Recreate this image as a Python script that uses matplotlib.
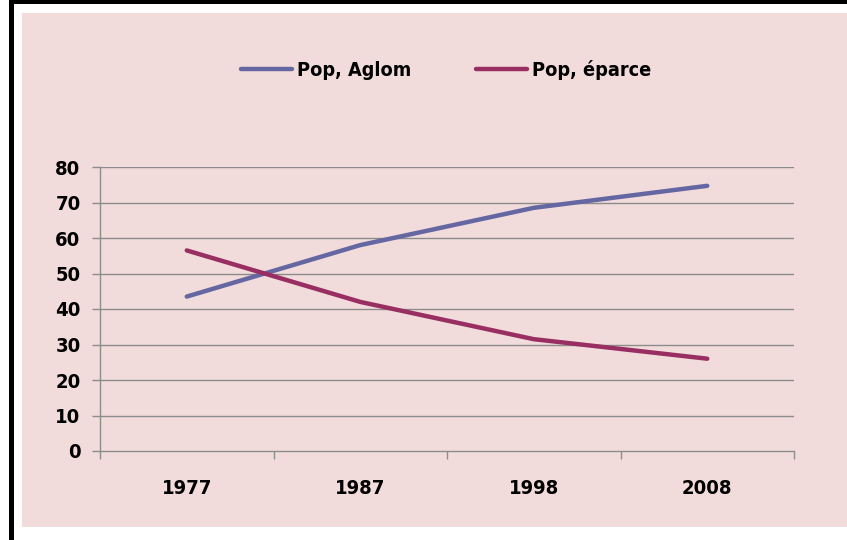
import matplotlib
matplotlib.use("Agg")
import matplotlib.pyplot as plt
from matplotlib.patches import Rectangle
from matplotlib.lines import Line2D

years = ["1977", "1987", "1998", "2008"]
pop_aglom = [43.5, 58.0, 68.5, 74.7]
pop_eparce = [56.5, 42.0, 31.5, 26.0]
series_names = ["Pop, Aglom", "Pop, éparce"]
y_ticks = [0, 10, 20, 30, 40, 50, 60, 70, 80]

W, H = 847, 540
FAM = ["DejaVu Sans"]
plt.rcParams["font.family"] = FAM
plt.rcParams["font.stretch"] = "condensed"

fig = plt.figure(figsize=(W / 100, H / 100), dpi=100)
fig.patch.set_facecolor("white")

# outer frame pieces
fig.add_artist(Rectangle((22 / W, 1 - 527 / H), (W - 22) / W, (527 - 13) / H,
                         transform=fig.transFigure, facecolor="#F2DCDB",
                         edgecolor="none", zorder=0))
fig.add_artist(Rectangle((9 / W, 0), 4.5 / W, 1, transform=fig.transFigure,
                         facecolor="black", edgecolor="none", zorder=0))
fig.add_artist(Rectangle((9 / W, 1 - 3.5 / H), (W - 9) / W, 3.5 / H,
                         transform=fig.transFigure, facecolor="black",
                         edgecolor="none", zorder=0))

ax = fig.add_axes([100 / W, (H - 451) / H, 694 / W, 284 / H])
ax.set_facecolor("none")

x = list(range(len(years)))
blue = "#6467A2"
red = "#982E62"
ax.plot(x, pop_aglom, color=blue, lw=3.2, solid_capstyle="round",
        solid_joinstyle="round", label=series_names[0], zorder=3)
ax.plot(x, pop_eparce, color=red, lw=3.2, solid_capstyle="round",
        solid_joinstyle="round", label=series_names[1], zorder=3)

ax.set_xlim(-0.5, len(years) - 0.5)
ax.set_ylim(0, 80)
ax.set_yticks(y_ticks)
ax.set_yticklabels([str(v) for v in y_ticks])
ax.set_xticks([i - 0.5 for i in range(len(years) + 1)])
ax.set_xticklabels([])
ax.set_xticks(x, minor=True)
ax.set_xticklabels(years, minor=True)

grid_c = "#8C8C8C"
for v in y_ticks[1:]:
    ax.axhline(v, color=grid_c, lw=1.0, zorder=1)

for s in ["top", "right"]:
    ax.spines[s].set_visible(False)
for s in ["left", "bottom"]:
    ax.spines[s].set_color(grid_c)
    ax.spines[s].set_linewidth(1.0)

ax.tick_params(axis="y", which="major", length=6, width=1.0, color=grid_c,
               labelsize=14.5, pad=8)
ax.tick_params(axis="x", which="major", length=6, width=1.0, color=grid_c)
ax.tick_params(axis="x", which="minor", length=0, labelsize=14.5, pad=20)
for lab in ax.get_yticklabels() + ax.get_xticklabels(minor=True):
    lab.set_fontweight("bold")
    lab.set_fontstretch("condensed")

handles = [Line2D([], [], color=blue, lw=3.2, solid_capstyle="round"),
           Line2D([], [], color=red, lw=3.2, solid_capstyle="round")]
fig.legend(handles, series_names, loc="center", ncol=2,
           bbox_to_anchor=(446 / W, 1 - 70 / H), frameon=False,
           prop={"size": 14.2, "weight": "bold", "family": FAM,
                 "stretch": "condensed"},
           handlelength=2.6, handletextpad=0.25, columnspacing=3.3)

fig.savefig("out.png", dpi=100, facecolor=fig.get_facecolor())
